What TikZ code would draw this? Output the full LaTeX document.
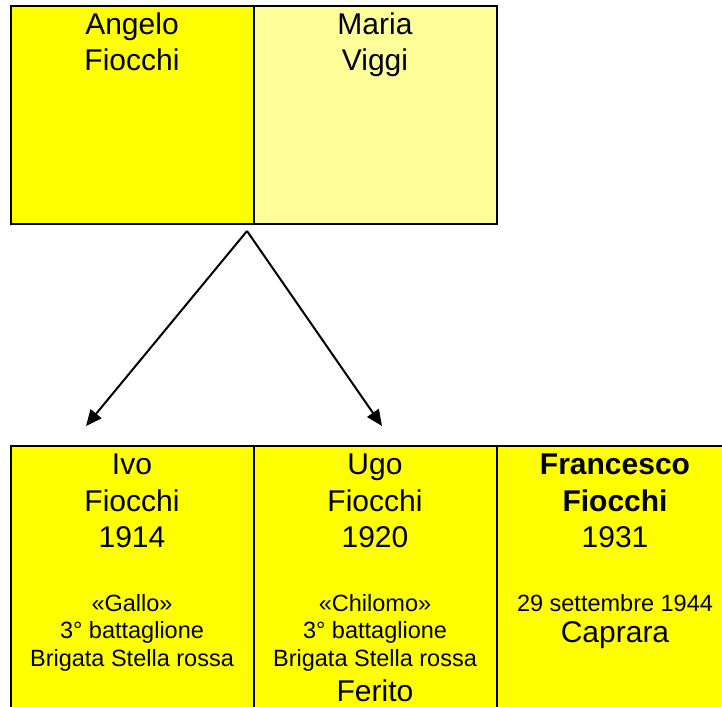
\documentclass[tikz,border=0pt]{standalone}
\usepackage{fontspec}
\setmainfont{Liberation Sans}
\usetikzlibrary{arrows.meta}
\definecolor{yel}{HTML}{FFFF00}
\definecolor{paleyel}{HTML}{FFFF99}
\tikzset{
  box/.style={draw=black, line width=2pt, anchor=north west, inner sep=0pt, outer sep=0pt},
  big/.style={anchor=base, inner sep=0pt, font=\fontsize{30}{35}\selectfont},
  small/.style={anchor=base, inner sep=0pt, font=\fontsize{23.5}{27}\selectfont},
  link/.style={line width=2pt, -{Triangle[length=16pt,width=14pt]}}
}
\begin{document}
\begin{tikzpicture}[x=1pt,y=-1pt]
\useasboundingbox (0,0) rectangle (722,706);
\clip (0,0) rectangle (722,706);
% parents
\node[box, fill=yel, minimum width=243pt, minimum height=218pt] (angelo) at (11,6) {};
\node[box, fill=paleyel, minimum width=243pt, minimum height=218pt] (maria) at (254,6) {};
\node[big] (t1) at (132,35) {Angelo};
\node[big] (t2) at (132,71) {Fiocchi};
\node[big] (t3) at (375,35) {Maria};
\node[big] (t4) at (375,71) {Viggi};
% children
\node[box, fill=yel, minimum width=243pt, minimum height=280pt] (ivo) at (11,446) {};
\node[box, fill=yel, minimum width=243pt, minimum height=280pt] (ugo) at (254,446) {};
\node[box, fill=yel, minimum width=243pt, minimum height=280pt] (fra) at (497,446) {};
\node[big] (i1) at (132,474) {Ivo};
\node[big] (i2) at (132,511) {Fiocchi};
\node[big] (i3) at (132,547) {1914};
\node[small] (i4) at (132,611) {«Gallo»};
\node[small] (i5) at (132,638) {3° battaglione};
\node[small] (i6) at (132,666) {Brigata Stella rossa};
\node[big] (u1) at (375,474) {Ugo};
\node[big] (u2) at (375,511) {Fiocchi};
\node[big] (u3) at (375,547) {1920};
\node[small] (u4) at (375,611) {«Chilomo»};
\node[small] (u5) at (375,638) {3° battaglione};
\node[small] (u6) at (375,666) {Brigata Stella rossa};
\node[big] (u7) at (375,701) {Ferito};
\node[big] (f1) at (615,474) {\bfseries Francesco};
\node[big] (f2) at (615,511) {\bfseries Fiocchi};
\node[big] (f3) at (615,547) {1931};
\node[small] (f4) at (615,611) {29 settembre 1944};
\node[big] (f5) at (615,642) {Caprara};
% connectors
\coordinate (src) at (247,231);
\coordinate (toivo) at (86,426);
\coordinate (tougo) at (382,426);
\draw[link] (src) -- (toivo);
\draw[link] (src) -- (tougo);
\end{tikzpicture}
\end{document}
